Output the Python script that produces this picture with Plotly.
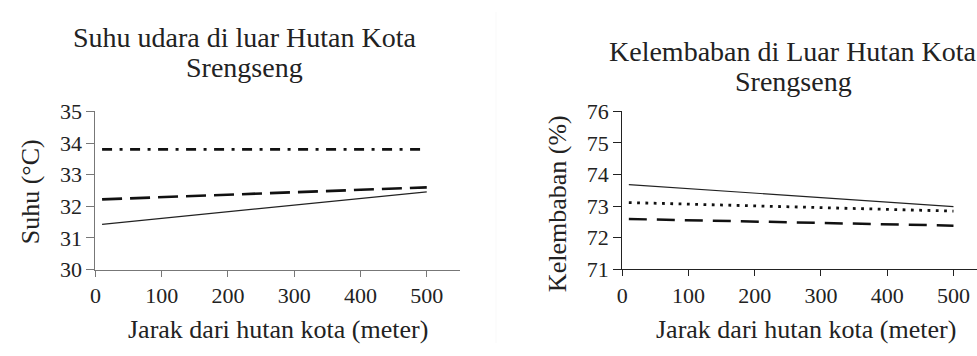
import plotly.graph_objects as go

# ---- data ----
distance = [10, 500]

temp_solid = [31.43, 32.46]
temp_dash = [32.22, 32.6]
temp_dashdot = [33.8, 33.8]

hum_solid = [73.68, 72.98]
hum_dot = [73.11, 72.84]
hum_dash = [72.59, 72.38]

x_ticks = [0, 100, 200, 300, 400, 500]
temp_ticks = [30, 31, 32, 33, 34, 35]
hum_ticks = [71, 72, 73, 74, 75, 76]

W, H = 977, 356
FONT = "Liberation Serif"

def fx(px):
    return px / W

def fy(py):
    return 1 - py / H

fig = go.Figure()

# left chart
fig.add_trace(go.Scatter(x=distance, y=temp_dashdot, mode="lines", xaxis="x", yaxis="y",
                         line=dict(color="#111", width=2.8, dash="10px,7.5px,3px,7.5px")))
fig.add_trace(go.Scatter(x=distance, y=temp_dash, mode="lines", xaxis="x", yaxis="y",
                         line=dict(color="#111", width=2.6, dash="20px,8px")))
fig.add_trace(go.Scatter(x=distance, y=temp_solid, mode="lines", xaxis="x", yaxis="y",
                         line=dict(color="#222", width=1.2)))

# right chart
fig.add_trace(go.Scatter(x=distance, y=hum_solid, mode="lines", xaxis="x2", yaxis="y2",
                         line=dict(color="#222", width=1.2)))
fig.add_trace(go.Scatter(x=distance, y=hum_dot, mode="lines", xaxis="x2", yaxis="y2",
                         line=dict(color="#111", width=2.8, dash="2.8px,5.5px")))
fig.add_trace(go.Scatter(x=distance, y=hum_dash, mode="lines", xaxis="x2", yaxis="y2",
                         line=dict(color="#111", width=2.5, dash="18px,10px")))

tickfont = dict(family=FONT, size=22, color="#222")

common_x = dict(tickmode="array", tickvals=x_ticks, ticktext=[str(v) for v in x_ticks],
                showgrid=False, zeroline=False, showline=True, ticks="outside", ticklen=6,
                tickfont=tickfont, fixedrange=True)
common_y = dict(tickmode="array", showgrid=False, zeroline=False, showline=True,
                ticks="outside", ticklen=8, tickfont=tickfont, fixedrange=True)

fig.update_layout(
    width=W, height=H, autosize=False,
    margin=dict(l=0, r=0, t=0, b=0, pad=0),
    paper_bgcolor="white", plot_bgcolor="white",
    showlegend=False,
    xaxis=dict(domain=[fx(90), fx(456.7)], range=[0, 550], anchor="y",
               linecolor="#777", tickcolor="#777", **common_x),
    yaxis=dict(domain=[fy(277), fy(107)], range=[30, 35], anchor="x",
               tickvals=temp_ticks, ticktext=[str(v) for v in temp_ticks],
               linecolor="#777", tickcolor="#777", **common_y),
    xaxis2=dict(domain=[fx(620), 1], range=[0, 535.5], anchor="y2",
                linecolor="#222", tickcolor="#222", **common_x),
    yaxis2=dict(domain=[fy(276.7), fy(106.7)], range=[71, 76], anchor="x2",
                tickvals=hum_ticks, ticktext=[str(v) for v in hum_ticks],
                linecolor="#222", tickcolor="#222", **common_y),
)

ann_font = dict(family=FONT, size=28, color="#222")
lab_font = dict(family=FONT, size=26, color="#222")
anns = [
    dict(text="Suhu udara di luar Hutan Kota", x=fx(240), y=fy(27)),
    dict(text="Srengseng", x=fx(240), y=fy(60)),
    dict(text="Kelembaban di Luar Hutan Kota", x=fx(792), y=fy(43)),
    dict(text="Srengseng", x=fx(792), y=fy(75)),
]
for a in anns:
    fig.add_annotation(xref="paper", yref="paper", showarrow=False, xanchor="center",
                       yanchor="middle", font=ann_font, **a)

fig.add_annotation(text="Jarak dari hutan kota (meter)", xref="paper", yref="paper",
                   x=fx(274), y=fy(342), showarrow=False, font=lab_font,
                   xanchor="center", yanchor="middle")
fig.add_annotation(text="Jarak dari hutan kota (meter)", xref="paper", yref="paper",
                   x=fx(805), y=fy(342), showarrow=False, font=lab_font,
                   xanchor="center", yanchor="middle")
fig.add_annotation(text="Suhu (°C)", xref="paper", yref="paper", textangle=-90,
                   x=fx(25), y=fy(193), showarrow=False, font=lab_font,
                   xanchor="center", yanchor="middle")
fig.add_annotation(text="Kelembaban (%)", xref="paper", yref="paper", textangle=-90,
                   x=fx(555), y=fy(206), showarrow=False, font=lab_font,
                   xanchor="center", yanchor="middle")

# very faint frame edge between the two images
fig.add_shape(type="line", xref="paper", yref="paper", x0=fx(493), x1=fx(493), y0=0, y1=1,
              line=dict(color="#f9f9f9", width=1))

fig.write_html("out.html", config={"displayModeBar": False, "responsive": False},
               post_script="document.body.style.margin='0';document.body.style.overflow='hidden';")
